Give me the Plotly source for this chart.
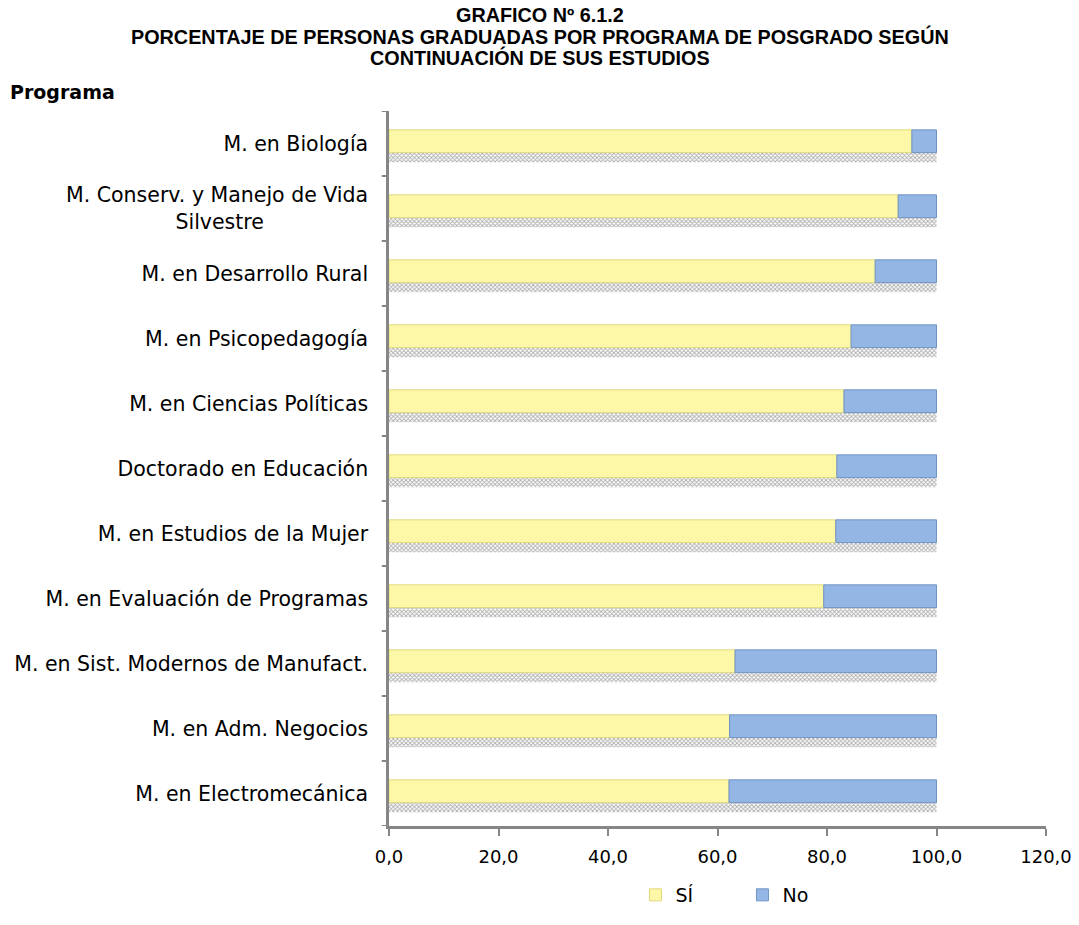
import plotly.graph_objects as go

programas = [
    "M. en Biología",
    "M. Conserv. y Manejo de Vida<br>Silvestre" + "\u00a0" * 16,
    "M. en Desarrollo Rural",
    "M. en Psicopedagogía",
    "M. en Ciencias Políticas",
    "Doctorado en Educación",
    "M. en Estudios de la Mujer",
    "M. en Evaluación de Programas",
    "M. en Sist. Modernos de Manufact.",
    "M. en Adm. Negocios",
    "M. en Electromecánica",
]
si_vals = [95.5, 93.0, 88.8, 84.4, 83.1, 81.8, 81.6, 79.4, 63.2, 62.2, 62.1]
no_vals = [4.5, 7.0, 11.2, 15.6, 16.9, 18.2, 18.4, 20.6, 36.8, 37.8, 37.9]
x_ticks = [0, 20, 40, 60, 80, 100, 120]
title_lines = [
    "GRAFICO Nº 6.1.2",
    "PORCENTAJE DE PERSONAS GRADUADAS POR PROGRAMA DE POSGRADO SEGÚN",
    "CONTINUACIÓN DE SUS ESTUDIOS",
]

totals = [a + b for a, b in zip(si_vals, no_vals)]
idx = list(range(len(programas)))

ARIAL = "Liberation Sans, Arial, sans-serif"
DEJA = "DejaVu Sans, sans-serif"
AXC = "#868686"

fig = go.Figure()
fig.add_trace(go.Bar(
    y=idx, x=totals, base=[0] * len(idx), orientation="h",
    offset=0.14, width=0.15,
    marker=dict(color="white", line=dict(width=0),
                pattern=dict(shape="x", fgcolor="#5a5a5a", bgcolor="white", size=3, solidity=0.5)),
    showlegend=False, hoverinfo="skip",
))
fig.add_trace(go.Bar(
    y=idx, x=si_vals, base=[0] * len(idx), orientation="h", name="SÍ",
    offset=-0.21, width=0.35,
    marker=dict(color="#FDF8A8", line=dict(color="#E2D97C", width=1)),
))
fig.add_trace(go.Bar(
    y=idx, x=no_vals, base=si_vals, orientation="h", name="No",
    offset=-0.21, width=0.35,
    marker=dict(color="#93B6E4", line=dict(color="#6F93C4", width=1)),
))

# plot area: x 389..1046, y 111..826 (px)
L, R, T, B = 389, 1046, 111, 826
def py(px):
    return (B - px) / float(B - T)
def px_(x):
    return (x - L) / float(R - L)

annotations = []
for line, ypx in zip(title_lines, [15, 36, 57]):
    annotations.append(dict(
        text="<b>" + line + "</b>", xref="paper", yref="paper",
        x=px_(540), y=py(ypx), xanchor="center", yanchor="middle",
        showarrow=False, font=dict(family=ARIAL, size=19.8, color="black"),
    ))
annotations.append(dict(
    text="<b>Programa</b>", xref="paper", yref="paper",
    x=px_(8), y=py(92), xanchor="left", yanchor="middle",
    showarrow=False, font=dict(size=19, family=DEJA, color="black"),
))

fig.update_layout(
    barmode="overlay",
    width=1079, height=925,
    paper_bgcolor="white", plot_bgcolor="white",
    separators=",.",
    font=dict(family=DEJA, size=20.5, color="black"),
    margin=dict(l=L, r=1079 - R, t=T, b=925 - B, autoexpand=False),
    xaxis=dict(
        range=[0, 120], tickvals=x_ticks, tickformat=".1f",
        showgrid=False, zeroline=False, automargin=False,
        showline=True, linecolor=AXC, linewidth=2.5,
        ticks="outside", ticklen=7, tickcolor=AXC, tickwidth=2,
        tickfont=dict(size=18, family=DEJA), ticklabelstandoff=6,
    ),
    yaxis=dict(
        tickvals=idx, ticktext=programas, range=[10.5, -0.5],
        showgrid=False, zeroline=False, automargin=False,
        showline=True, linecolor=AXC, linewidth=2.5,
        ticks="", tickfont=dict(size=20.5, family=DEJA), ticklabelstandoff=14,
    ),
    legend=dict(
        orientation="h", x=0.538, xanchor="center", y=py(895), yanchor="middle",
        font=dict(size=19, family=DEJA), bgcolor="rgba(0,0,0,0)",
        itemwidth=30, traceorder="normal",
        entrywidth=62, entrywidthmode="pixels",
    ),
    annotations=annotations,
)

shapes = []
for k in range(len(idx) + 1):
    shapes.append(dict(type="line", xref="paper", yref="y",
                       x0=-0.011, x1=0, y0=k - 0.5, y1=k - 0.5,
                       line=dict(color=AXC, width=2)))
fig.update_layout(shapes=shapes)

fig.write_html("out.html", config={"displayModeBar": False},
               post_script="document.body.style.margin='0';")
